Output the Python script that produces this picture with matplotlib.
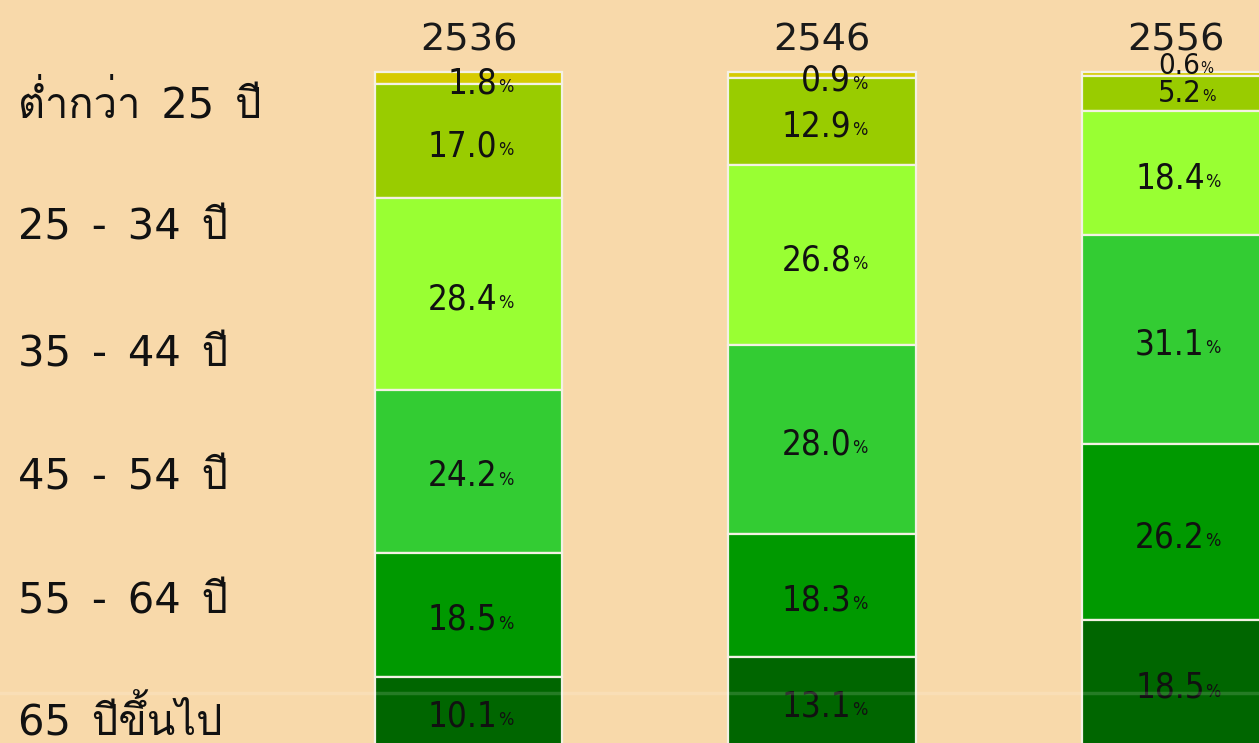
import matplotlib
matplotlib.use('Agg')
import matplotlib.pyplot as plt
from matplotlib import font_manager
from matplotlib.ft2font import FT2Font

# data (percent of farm holders by age group, top segment first)
years = ['2536', '2546', '2556']
age_groups = ['ต่ำกว่า\u200225\u2002ปี', '25\u2002-\u200234\u2002ปี',
              '35\u2002-\u200244\u2002ปี', '45\u2002-\u200254\u2002ปี',
              '55\u2002-\u200264\u2002ปี', '65\u2002ปีขึ้นไป']
share_2536 = [1.8, 17.0, 28.4, 24.2, 18.5, 10.1]
share_2546 = [0.9, 12.9, 26.8, 28.0, 18.3, 13.1]
share_2556 = [0.6, 5.2, 18.4, 31.1, 26.2, 18.5]
shares = [share_2536, share_2546, share_2556]

colors = ['#D6CB00', '#99CC00', '#99FF33', '#33CC33', '#009900', '#006600']
bg = '#F8D9AA'

PX = 6.73  # pixels per percent on the y axis


def find_thai_font():
    # look for any installed font that has Thai glyphs
    for f in font_manager.fontManager.ttflist:
        try:
            if 0x0E1B in FT2Font(f.fname).get_charmap():
                return f.name
        except Exception:
            pass
    return 'DejaVu Sans'


thai = find_thai_font()

fig = plt.figure(figsize=(12.59, 7.43), dpi=100, facecolor=bg)
ax = fig.add_axes([0, 0, 1, 1])
ax.set_facecolor(bg)

# labels of the two thin top slices in 2556 sit higher and are a bit smaller
nudge = {(2, 0): (-13, 21), (2, 1): (-5, 22)}

for i, vals in enumerate(shares):
    bottom = 0
    for j, v in enumerate(vals):
        ax.bar(i, v, bottom=bottom, width=0.53, color=colors[j],
               edgecolor='#F4F1E4', linewidth=1.6)
        dy, fs = nudge.get((i, j), (0, 25))
        yc = bottom + v / 2 + (2 + dy) / PX
        k = fs / 25.0
        # number, then a small percent sign after it
        ax.annotate('%.1f' % v, (i, yc), xytext=(21 * k, -9.5 * k),
                    textcoords='offset points', ha='right', va='baseline',
                    fontsize=fs, family='DejaVu Sans', fontstretch='condensed',
                    color='#111111')
        ax.annotate('%', (i, yc), xytext=(21.5 * k, -8.5 * k),
                    textcoords='offset points', ha='left', va='baseline',
                    fontsize=13 * k, family='DejaVu Sans',
                    fontstretch='condensed', color='#111111')
        bottom += v
    ax.text(i, -3.25, years[i], ha='center', va='baseline', fontsize=27.5,
            family='DejaVu Sans', color='#1a1a1a')

ax.set_xlim(-1.325, 2.236)
ax.set_ylim(99.7, -10.68)
ax.axis('off')

# row labels on the left (baseline positions in pixels from top)
label_base = [118, 240, 366, 489, 613, 735]
for name, py in zip(age_groups, label_base):
    fig.text(18 / 1259, 1 - py / 743, name, ha='left', va='baseline',
             fontsize=30, family=['DejaVu Sans', thai], color='#111111')

# faint horizontal streak in the original frame
fig.add_artist(plt.Line2D([0, 1], [1 - 693 / 743] * 2, color='white',
                          alpha=0.15, linewidth=2.5))

fig.savefig('out.png', dpi=100, facecolor=bg)
